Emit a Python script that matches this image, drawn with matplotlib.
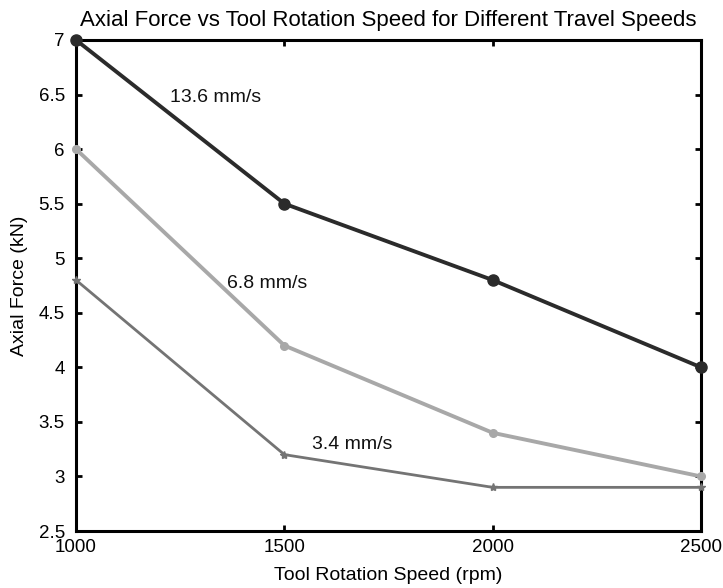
import matplotlib
matplotlib.use("Agg")
import matplotlib.pyplot as plt

plt.rcParams['font.family'] = ['Liberation Sans', 'DejaVu Sans']

speeds = [1000, 1500, 2000, 2500]
force_13_6 = [7.0, 5.5, 4.8, 4.0]
force_6_8 = [6.0, 4.2, 3.4, 3.0]
force_3_4 = [4.8, 3.2, 2.9, 2.9]
labels = ["13.6 mm/s", "6.8 mm/s", "3.4 mm/s"]
label_pos = [(1335, 6.47), (1458, 4.77), (1662, 3.29)]
yticks = [2.5, 3, 3.5, 4, 4.5, 5, 5.5, 6, 6.5, 7]
yticklabels = ["2.5", "3", "3.5", "4", "4.5", "5", "5.5", "6", "6.5", "7"]

fig = plt.figure(figsize=(7.23, 5.88), dpi=100)
ax = fig.add_axes([76/723, 1-531/588, 625/723, 491/588])

ax.plot(speeds, force_13_6, color='#2b2b2b', lw=2.8, marker='o', ms=8, clip_on=False, zorder=3)
ax.plot(speeds, force_6_8, color='#a8a8a8', lw=2.8, marker='o', ms=5.5, clip_on=False, zorder=3)
ax.plot(speeds, force_3_4, color='#747474', lw=2.0, marker='*', ms=6, clip_on=False, zorder=3)

for t, (x, y) in zip(labels, label_pos):
    ax.text(x, y, t, ha='center', va='center', fontsize=14, color='#111111')

ax.set_xlim(1000, 2500)
ax.set_ylim(2.5, 7)
ax.set_xticks(speeds)
ax.set_xticklabels([str(s) for s in speeds])
ax.set_yticks(yticks)
ax.set_yticklabels(yticklabels)
ax.tick_params(direction='in', top=True, right=True, length=4, width=2, labelsize=13.5)
ax.tick_params(axis='y', pad=8)
ax.tick_params(axis='x', pad=6)
for s in ax.spines.values():
    s.set_linewidth(2.2)
ax.set_xlabel("Tool Rotation Speed (rpm)", fontsize=14, labelpad=8)
ax.set_ylabel("Axial Force (kN)", fontsize=14, labelpad=8)
ax.set_title("Axial Force vs Tool Rotation Speed for Different Travel Speeds", fontsize=16, pad=10)

fig.savefig("out.png", dpi=100)
